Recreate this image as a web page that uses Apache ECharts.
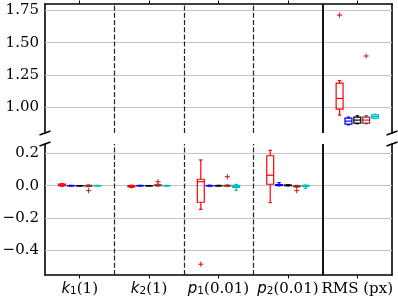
<!DOCTYPE html>
<html><head><meta charset="utf-8">
<script src="https://cdn.jsdelivr.net/npm/echarts@6/dist/echarts.min.js"></script>
<style>html,body{margin:0;padding:0;background:#fff}#c{width:398px;height:298px}</style>
</head><body><div id="c"></div>
<script>
const categories = ['k1(1)', 'k2(1)', 'p1(0.01)', 'p2(0.01)', 'RMS (px)'];
const boxColors = ['#ff0000', '#0000ff', '#000000', '#a52a2a', '#00bfbf'];
const boxNames = ['red', 'blue', 'black', 'brown', 'cyan'];
// [min, q1, median, q3, max] per category
const redBoxes   = [[-0.004, 0.000, 0.004, 0.010, 0.013], [-0.012, -0.008, -0.004, 0.000, 0.003], [-0.147, -0.103, 0.025, 0.040, 0.160], [-0.105, 0.009, 0.065, 0.186, 0.220], [0.939, 0.985, 1.068, 1.186, 1.206]];
const blueBoxes  = [[-0.002, -0.001, 0.000, 0.001, 0.002], [-0.002, -0.001, 0.000, 0.001, 0.002], [-0.003, -0.001, 0.000, 0.001, 0.003], [-0.001, 0.001, 0.004, 0.007, 0.019], [0.863, 0.869, 0.892, 0.915, 0.923]];
const blackBoxes = [[-0.001, -0.0005, 0.000, 0.0005, 0.001], [-0.001, -0.0005, 0.000, 0.0005, 0.001], [-0.002, -0.001, 0.000, 0.001, 0.002], [-0.001, 0.000, 0.002, 0.004, 0.006], [0.872, 0.876, 0.900, 0.923, 0.933]];
const brownBoxes = [[-0.006, -0.003, -0.001, 0.002, 0.004], [-0.002, 0.000, 0.002, 0.005, 0.009], [-0.004, -0.002, 0.000, 0.002, 0.004], [-0.010, -0.006, -0.003, 0.000, 0.002], [0.872, 0.876, 0.900, 0.923, 0.933]];
const cyanBoxes  = [[-0.002, -0.001, 0.000, 0.001, 0.002], [-0.002, -0.001, 0.000, 0.001, 0.002], [-0.030, -0.010, -0.004, 0.002, 0.008], [-0.016, -0.004, -0.001, 0.002, 0.004], [0.912, 0.915, 0.928, 0.940, 0.946]];
// outliers: [categoryIndex, value]
const redOutliers   = [[2, -0.488], [4, 1.714]];
const blueOutliers  = [];
const blackOutliers = [];
const brownOutliers = [[0, -0.031], [1, 0.025], [2, 0.056], [3, -0.031], [4, 1.397]];
const cyanOutliers  = [];

const topTicks = [1.00, 1.25, 1.50, 1.75];
const bottomTicks = [-0.4, -0.2, 0.0, 0.2];
const topRange = [0.80, 1.80];
const bottomRange = [-0.555, 0.259];

const allBoxes = [redBoxes, blueBoxes, blackBoxes, brownBoxes, cyanBoxes];
const allOutliers = [redOutliers, blueOutliers, blackOutliers, brownOutliers, cyanOutliers];

const SLOT = 0.1275, BOXW = 0.1;
const SERIF = 'DejaVu Serif';

function renderBox(params, api) {
  const k = api.value(6);
  const x = api.value(0) + 0.5 + (k - 2) * SLOT;
  const w = api.size([BOXW, 0])[0];
  const pMin = api.coord([x, api.value(1)]);
  const pQ1 = api.coord([x, api.value(2)]);
  const pMed = api.coord([x, api.value(3)]);
  const pQ3 = api.coord([x, api.value(4)]);
  const pMax = api.coord([x, api.value(5)]);
  const cx = pMed[0], hw = w / 2, cw = w / 4;
  const style = { stroke: api.visual('color'), lineWidth: 1.2, fill: null };
  const line = (x1, y1, x2, y2) => ({ type: 'line', shape: { x1, y1, x2, y2 }, style });
  return { type: 'group', children: [
    { type: 'rect', shape: { x: cx - hw, y: pQ3[1], width: w, height: Math.max(pQ1[1] - pQ3[1], 0.3) }, style },
    line(cx - hw, pMed[1], cx + hw, pMed[1]),
    line(cx, pQ3[1], cx, pMax[1]),
    line(cx, pQ1[1], cx, pMin[1]),
    line(cx - cw, pMax[1], cx + cw, pMax[1]),
    line(cx - cw, pMin[1], cx + cw, pMin[1])
  ]};
}
function renderOutlier(params, api) {
  const k = api.value(2);
  const x = api.value(0) + 0.5 + (k - 2) * SLOT;
  const p = api.coord([x, api.value(1)]);
  const s = 2.6;
  const style = { stroke: api.visual('color'), lineWidth: 1, fill: null };
  return { type: 'group', children: [
    { type: 'line', shape: { x1: p[0] - s, y1: p[1], x2: p[0] + s, y2: p[1] }, style },
    { type: 'line', shape: { x1: p[0], y1: p[1] - s, x2: p[0], y2: p[1] + s }, style }
  ]};
}

const tickPos = categories.map((c, i) => i + 0.5);
const sepPos = categories.slice(1).map((c, i) => i + 1);

function fmtCat(v) {
  const name = categories[Math.floor(v)] || '';
  const m = name.match(/^([a-z])(\d)(.*)$/);
  if (m) return '{it|' + m[1] + '}{sub|' + m[2] + '}{rm|' + m[3] + '}';
  return '{rm|' + name + '}';
}

const series = [];
[0, 1].forEach(g => {
  const range = g === 0 ? topRange : bottomRange;
  const ticks = g === 0 ? topTicks : bottomTicks;
  series.push({
    type: 'line', xAxisIndex: g, yAxisIndex: g * 2, data: [], z: 1, silent: true,
    markLine: { silent: true, symbol: ['none', 'none'], label: { show: false }, animation: false,
      emphasis: { disabled: true },
      lineStyle: { color: '#c4c4c4', width: 1, type: 'solid' },
      data: ticks.map(v => ({ yAxis: v })) }
  });
  series.push({
    type: 'line', xAxisIndex: g, yAxisIndex: g * 2, data: [], z: 2, silent: true,
    markLine: { silent: true, symbol: ['none', 'none'], label: { show: false }, animation: false,
      emphasis: { disabled: true },
      data: sepPos.map((v, i) => ({ xAxis: v, lineStyle: i === sepPos.length - 1
        ? { color: '#111', width: 2, type: 'solid' }
        : { color: '#222', width: 1.2, type: [5, 2.2] } })) }
  });
  allBoxes.forEach((boxes, k) => {
    const data = [];
    boxes.forEach((b, c) => { if (b[2] >= range[0] && b[2] <= range[1]) data.push([c].concat(b).concat([k])); });
    series.push({ type: 'custom', name: boxNames[k], xAxisIndex: g, yAxisIndex: g * 2, z: 5,
      itemStyle: { color: boxColors[k] }, renderItem: renderBox, data, animation: false, silent: true });
    const od = allOutliers[k].filter(o => o[1] >= range[0] && o[1] <= range[1]).map(o => [o[0], o[1], k]);
    series.push({ type: 'custom', name: boxNames[k] + ' outliers', xAxisIndex: g, yAxisIndex: g * 2, z: 5,
      itemStyle: { color: boxColors[k] }, renderItem: renderOutlier, data: od, animation: false, silent: true });
  });
});

const axisLineStyle = { color: '#000', width: 1.6 };
const yLabel = { fontFamily: SERIF, fontSize: 15, color: '#000', margin: 6 };

const option = {
  animation: false,
  backgroundColor: '#fff',
  grid: [
    { left: 45, right: 6, top: 4, height: 129, outerBoundsMode: 'none', containLabel: false },
    { left: 45, right: 6, top: 144, bottom: 23, outerBoundsMode: 'none', containLabel: false }
  ],
  xAxis: [
    { gridIndex: 0, type: 'value', min: 0, max: 5, position: 'top',
      axisLine: { show: true, onZero: false, lineStyle: axisLineStyle },
      axisTick: { show: true, inside: false, length: 3.5, customValues: tickPos, lineStyle: { color: '#000', width: 1 } },
      axisLabel: { show: false }, splitLine: { show: false } },
    { gridIndex: 1, type: 'value', min: 0, max: 5, position: 'bottom',
      axisLine: { show: true, onZero: false, lineStyle: axisLineStyle },
      axisTick: { show: true, inside: false, length: 3.5, customValues: tickPos, lineStyle: { color: '#000', width: 1 } },
      axisLabel: { show: true, customValues: tickPos, formatter: fmtCat, margin: 6,
        rich: {
          it: { fontFamily: 'DejaVu Sans', fontStyle: 'italic', fontSize: 15, color: '#000', lineHeight: 16 },
          sub: { fontFamily: 'DejaVu Sans', fontSize: 10.5, color: '#000', verticalAlign: 'bottom', lineHeight: 8 },
          rm: { fontFamily: SERIF, fontSize: 15, color: '#000', lineHeight: 16 }
        } },
      splitLine: { show: false } }
  ],
  yAxis: [
    { gridIndex: 0, type: 'value', min: topRange[0], max: topRange[1], position: 'left',
      axisLine: { show: true, onZero: false, lineStyle: axisLineStyle }, axisTick: { show: false },
      axisLabel: Object.assign({ customValues: topTicks, formatter: v => v.toFixed(2) }, yLabel),
      splitLine: { show: false } },
    { gridIndex: 0, type: 'value', min: topRange[0], max: topRange[1], position: 'right',
      axisLine: { show: true, onZero: false, lineStyle: axisLineStyle }, axisTick: { show: false },
      axisLabel: { show: false }, splitLine: { show: false } },
    { gridIndex: 1, type: 'value', min: bottomRange[0], max: bottomRange[1], position: 'left',
      axisLine: { show: true, onZero: false, lineStyle: axisLineStyle }, axisTick: { show: false },
      axisLabel: Object.assign({ customValues: bottomTicks, formatter: v => (v < 0 ? '\u2212' : '') + Math.abs(v).toFixed(1) }, yLabel),
      splitLine: { show: false } },
    { gridIndex: 1, type: 'value', min: bottomRange[0], max: bottomRange[1], position: 'right',
      axisLine: { show: true, onZero: false, lineStyle: axisLineStyle }, axisTick: { show: false },
      axisLabel: { show: false }, splitLine: { show: false } }
  ],
  series
};

const chart = echarts.init(document.getElementById('c'), null, { renderer: 'canvas' });
chart.setOption(option);

// break marks at the axis ends where the y axis is cut
const corners = [
  chart.convertToPixel({ xAxisIndex: 0, yAxisIndex: 0 }, [0, topRange[0]]),
  chart.convertToPixel({ xAxisIndex: 0, yAxisIndex: 0 }, [5, topRange[0]]),
  chart.convertToPixel({ xAxisIndex: 1, yAxisIndex: 2 }, [0, bottomRange[1]]),
  chart.convertToPixel({ xAxisIndex: 1, yAxisIndex: 2 }, [5, bottomRange[1]])
];
chart.setOption({ graphic: corners.map(p => ({
  type: 'line', silent: true, z: 10,
  shape: { x1: p[0] - 5.5, y1: p[1] + 2, x2: p[0] + 5.5, y2: p[1] - 2 },
  style: { stroke: '#000', lineWidth: 1.5 }
})) });
</script>
</body></html>
